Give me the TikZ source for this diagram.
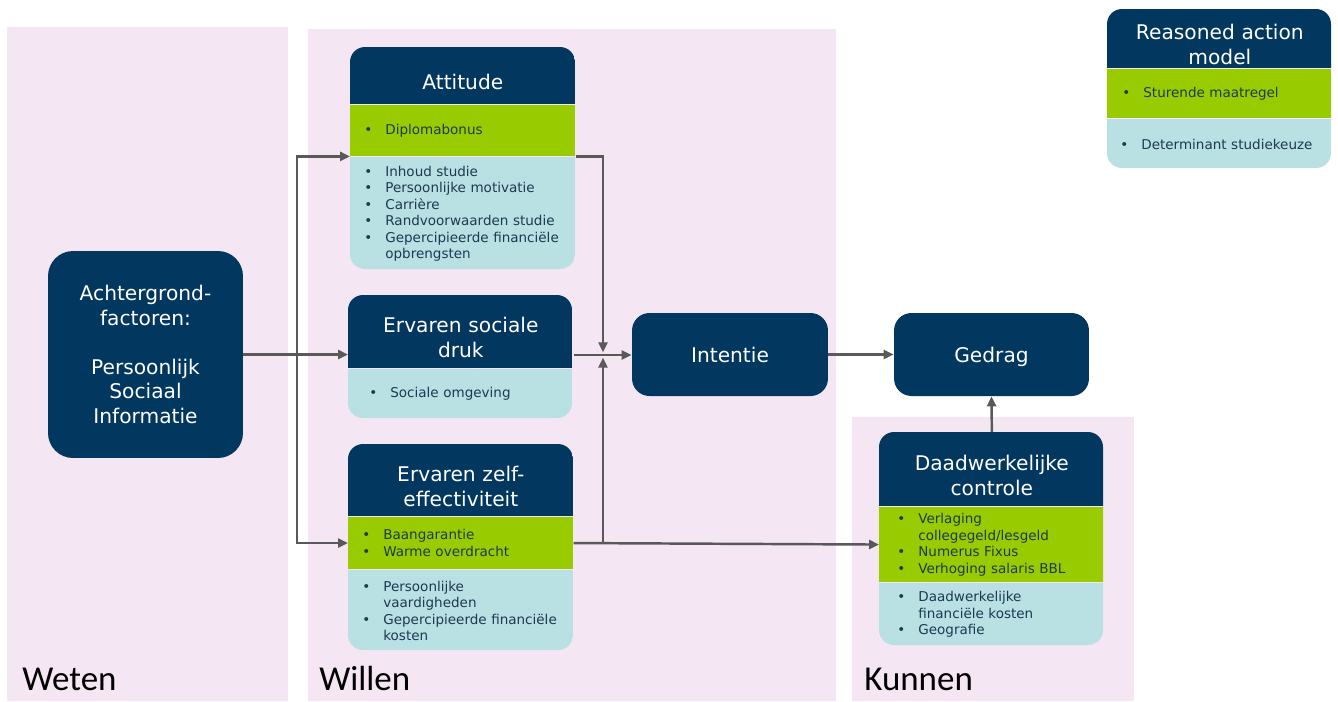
\documentclass[tikz,border=0pt]{standalone}
\usepackage{fontspec}
\setmainfont{DejaVu Sans}
\newfontfamily\panelfont{Carlito}
\usetikzlibrary{positioning}
\usetikzlibrary{arrows.meta}
\tikzset{>={Triangle[width=1.8mm,length=2mm]}}

\definecolor{headblue}{HTML}{02375F}
\definecolor{measuregreen}{HTML}{99CC00}
\definecolor{determinantblue}{HTML}{B9E0E3}
\definecolor{panelpink}{HTML}{F4E7F3}
\definecolor{itemtext}{HTML}{1E3A52}
\definecolor{arrowgrey}{HTML}{595959}

\newcommand{\titlesize}{\fontsize{11.5}{14.2}\selectfont}
\newcommand{\itemsize}{\fontsize{7.7}{9.4}\selectfont}
\newcommand{\itembul}{\makebox[0.42cm][l]{\textbullet}}
\newcommand{\itemgap}{\hspace*{0.42cm}}
\newcommand{\headstrut}{\rule{0pt}{0.54cm}}

\begin{document}
\begin{tikzpicture}[x=0.02cm, y=-0.02cm]
          \tikzstyle{head} = [rectangle, fill=headblue, text=white, inner sep=0pt, align=center, font=\titlesize, text width=4.3cm, minimum width=4.5cm, execute at begin node=\headstrut]
          \tikzstyle{limeband} = [rectangle, fill=measuregreen, text=itemtext, inner xsep=0.28cm, inner ysep=0pt, align=left, font=\itemsize, text width=3.94cm]
          \tikzstyle{aquaband} = [rectangle, fill=determinantblue, text=itemtext, inner xsep=0.28cm, inner ysep=0pt, align=left, font=\itemsize, text width=3.94cm]
          \tikzstyle{rbox} = [rectangle, rounded corners=0.35cm, fill=headblue, text=white, inner sep=0pt, align=center, font=\titlesize]
          \tikzstyle{paneltext} = [inner sep=0pt, anchor=base west, font=\panelfont\fontsize{19.9}{24}\selectfont]
          \tikzstyle{flow} = [->, line width=1.4pt, draw=arrowgrey]
          \useasboundingbox (0,0) rectangle (1338,701);

          % panels
          \fill[panelpink] (7,27) rectangle (288,701);
          \fill[panelpink] (308,29) rectangle (836,701);
          \fill[panelpink] (852,417) rectangle (1134,701);
          \node[paneltext] (weten) at (22,690) {Weten};
          \node[paneltext] (willen) at (319,690) {Willen};
          \node[paneltext] (kunnen) at (864,690) {Kunnen};

          \node[rbox, minimum width=3.9cm, minimum height=4.14cm, rounded corners=0.5cm] (bg) at (145.5,354.5)
            {Achtergrond-\\factoren:\\[0.48cm]Persoonlijk\\Sociaal\\Informatie};

          % attitude
          \begin{scope}
            \clip[rounded corners=0.3cm] (350,47) rectangle (575,269);
            \node[head, anchor=north west, minimum height=1.14cm] (atth) at (350,47) {Attitude};
            \node[limeband, below=0pt of atth, minimum height=1.02cm] (attm) {\itembul Diplomabonus};
            \node[aquaband, below=0pt of attm, minimum height=2.28cm] (attl)
              {\itembul Inhoud studie\\ \itembul Persoonlijke motivatie\\ \itembul Carrière\\ \itembul Randvoorwaarden studie\\ \itembul Gepercipieerde financiële\\ \itemgap opbrengsten};
          \end{scope}

          % sociale druk
          \begin{scope}
            \clip[rounded corners=0.3cm] (348,295) rectangle (572,418);
            \node[head, anchor=north west, minimum height=1.46cm] (drukh) at (348,295) {Ervaren sociale\\druk};
            \node[aquaband, below=0pt of drukh, minimum height=1.0cm, inner xsep=0.42cm, text width=3.66cm] (drukl) {\itembul Sociale omgeving};
          \end{scope}

          % zelf-effectiviteit
          \begin{scope}
            \clip[rounded corners=0.3cm] (348,444) rectangle (573,650);
            \node[head, anchor=north west, minimum height=1.44cm] (zelfh) at (348,444) {Ervaren zelf-\\effectiviteit};
            \node[limeband, below=0pt of zelfh, minimum height=1.04cm] (zelfm) {\itembul Baangarantie\\ \itembul Warme overdracht};
            \node[aquaband, below=0pt of zelfm, minimum height=1.64cm] (zelfl)
              {\itembul Persoonlijke\\ \itemgap vaardigheden\\ \itembul Gepercipieerde financiële\\ \itemgap kosten};
          \end{scope}

          % daadwerkelijke controle
          \begin{scope}
            \clip[rounded corners=0.3cm] (879,432) rectangle (1103,645);
            \node[head, anchor=north west, minimum height=1.48cm] (dch) at (879,432) {Daadwerkelijke\\controle};
            \node[limeband, below=0pt of dch, minimum height=1.5cm, inner xsep=0.36cm, text width=3.78cm] (dcm)
              {\itembul Verlaging\\ \itemgap collegegeld/lesgeld\\ \itembul Numerus Fixus\\ \itembul Verhoging salaris BBL};
            \node[aquaband, below=0pt of dcm, minimum height=1.28cm, inner xsep=0.36cm, text width=3.78cm] (dcl)
              {\itembul Daadwerkelijke\\ \itemgap financiële kosten\\ \itembul Geografie};
          \end{scope}

          % legend
          \begin{scope}
            \clip[rounded corners=0.3cm] (1107,9) rectangle (1331,168);
            \node[head, anchor=north west, minimum height=1.18cm] (legh) at (1107,9) {Reasoned action\\model};
            \node[limeband, below=0pt of legh, minimum height=0.98cm, inner xsep=0.3cm, text width=3.9cm] (legm) {\itembul Sturende maatregel};
            \node[aquaband, below=0pt of legm, minimum height=1.02cm, inner xsep=0.26cm, text width=3.98cm] (legl) {\itembul Determinant studiekeuze};
          \end{scope}

          \node[rbox, minimum width=3.92cm, minimum height=1.66cm, text depth=0pt] (intent) at (730,354.5) {Intentie};
          \node[rbox, minimum width=3.9cm, minimum height=1.66cm, text depth=0pt] (gedrag) at (991.5,354.5) {Gedrag};

          \coordinate (fork) at (297,355);
          \coordinate (join) at (603,355);
          \draw[flow] (bg.east) -- (bg.east -| drukh.west);
          \draw[flow] (fork) |- (attm.south west);
          \draw[flow] (fork) |- (zelfm.west);
          \draw[flow, shorten >=1.5pt] (attm.south east) -| (join);
          \draw[flow, shorten >=1.5pt] (zelfm.east) -| (join);
          \draw[flow] (drukh.east |- join) -- (intent.west |- join);
          \draw[flow] (zelfm.east) -- (dcm.west);
          \draw[flow] (intent.east) -- (gedrag.west);
          \draw[flow] (dch.north) -- (gedrag.south);
        \end{tikzpicture}
\end{document}
